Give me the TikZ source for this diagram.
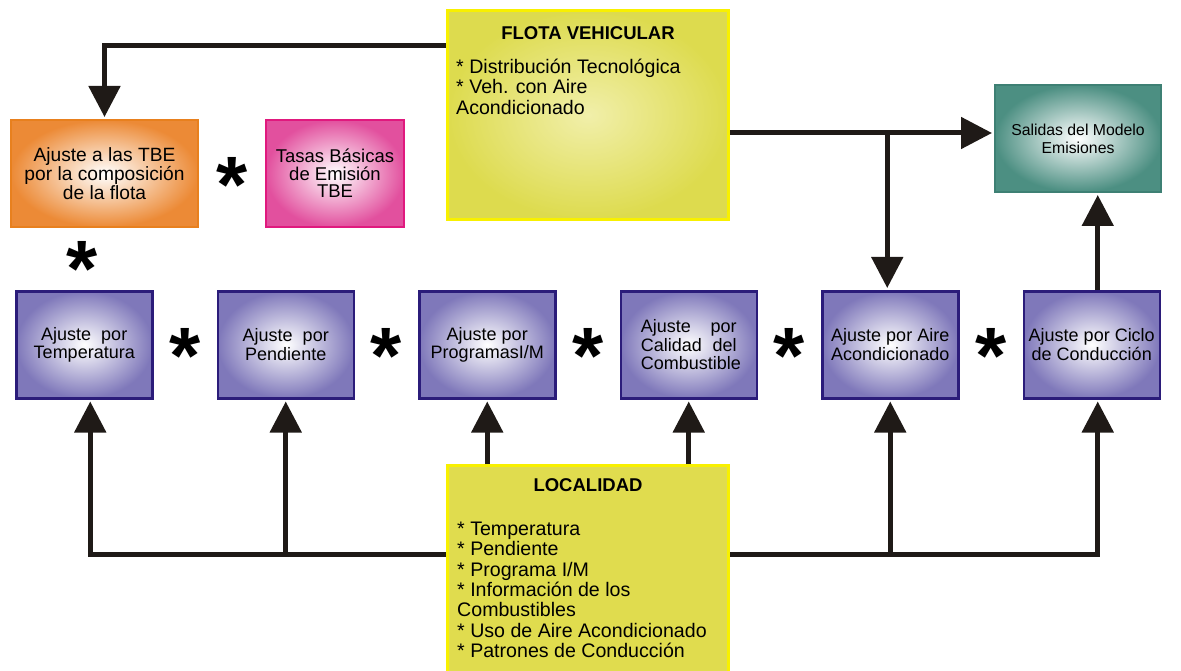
\documentclass[tikz,border=0pt]{standalone}
\usepackage{fontspec}
\setmainfont{Liberation Sans}
\usetikzlibrary{arrows.meta,positioning}

\definecolor{ajustefill}{HTML}{7F78BA}
\definecolor{ajusteline}{HTML}{2B1C7A}
\definecolor{flotafill}{HTML}{DDDB4E}
\definecolor{flotacenter}{HTML}{F1EFAA}
\definecolor{amarillo}{HTML}{F8F000}
\definecolor{locfill}{HTML}{E0DC4E}
\definecolor{naranja}{HTML}{EC8A36}
\definecolor{naranjaline}{HTML}{E8801E}
\definecolor{rosa}{HTML}{E2509E}
\definecolor{rosaline}{HTML}{E0197E}
\definecolor{verde}{HTML}{4C8F82}
\definecolor{verdeline}{HTML}{3E8074}
\definecolor{flecha}{HTML}{1F1A17}

\begin{document}
\begin{tikzpicture}[
		x=1pt, y=-1pt,
		node distance=63pt,
		line/.style={draw=flecha, line width=5pt},
		arrow/.style={line, -{Triangle[length=31pt,width=31pt]}, shorten >=2pt},
		block/.style={draw=ajusteline, line width=2.5pt, minimum width=136pt, minimum height=107pt,
			inner sep=1pt, align=center, inner color=white, outer color=ajustefill,
			font=\fontsize{18}{18.5}\selectfont},
		topblock/.style={line width=2pt, minimum height=107pt, anchor=north west,
			inner sep=1pt, align=center, inner color=white, font=\fontsize{18.5}{17.5}\selectfont},
		yellowbox/.style={draw=amarillo, line width=3pt, minimum width=281pt, anchor=north west},
		listtext/.style={anchor=north west, align=left, inner sep=0pt, font=\fontsize{19.6}{20.3}\selectfont},
		title/.style={font=\bfseries\fontsize{18.5}{20}\selectfont},
		star/.style={font=\bfseries\fontsize{80}{80}\selectfont, inner sep=0pt, yshift=-11pt},
	]
		\useasboundingbox (0,0) rectangle (1181,671);

		% bloques superiores
		\node (flota) [yellowbox, inner color=flotacenter, outer color=flotafill, minimum height=209pt] at (446,9) {};
		\node (flotatit) [title] at (flota.north |- 0,33) {FLOTA VEHICULAR};
		\node (flotalist) [listtext] at (456,59) {* Distribución Tecnológica\\* Veh. con Aire\\Acondicionado};

		\node (flotaadj) [topblock, draw=naranjaline, outer color=naranja, minimum width=187pt,
			font=\fontsize{19.2}{17.5}\selectfont] at (10,119) {Ajuste a las TBE\\por la composición\\de la flota};
		\node (tasas) [topblock, draw=rosaline, outer color=rosa, minimum width=138pt] at (265,119)
			{Tasas Básicas\\de Emisión\\TBE};
		\node (salidas) [topblock, draw=verdeline, outer color=verde, minimum width=166pt,
			font=\fontsize{15.8}{18}\selectfont] at (994,84) {Salidas del Modelo\\Emisiones};

		% fila de ajustes
		\node (temp) [block, anchor=north west] at (15,290) {Ajuste\ \ por\\Temperatura};
		\node (pend) [block, right=of temp] {Ajuste\ \ por\\Pendiente};
		\node (prog) [block, right=of pend] {Ajuste por\\ProgramasI/M};
		\node (cal) [block, right=of prog, text width=96pt, align=left]
			{Ajuste\hfill por\\Calidad\hfill del\\Combustible};
		\node (aire) [block, right=of cal] {Ajuste por Aire\\Acondicionado};
		\node (ciclo) [block, right=of aire] {Ajuste por Ciclo\\de Conducción};

		% localidad
		\node (loc) [yellowbox, fill=locfill, minimum height=215pt] at (446,464) {};
		\node (loctit) [title] at (loc.north |- 0,485) {LOCALIDAD};
		\node (loclist) [listtext] at (457,522) {* Temperatura\\* Pendiente\\* Programa I/M\\* Información de los\\Combustibles\\* Uso de Aire Acondicionado\\* Patrones de Conducción};

		% productos
		\node (star0) [star] at (82,258) {*};
		\path (flotaadj) -- node (star6) [star] {*} (tasas);
		\foreach \a/\b [count=\i] in {temp/pend, pend/prog, prog/cal, cal/aire, aire/ciclo}
			\path (\a) -- node (star\i) [star] {*} (\b);

		% conexiones
		\draw[arrow] (flota.west |- 0,46) -| (flotaadj.north);
		\draw[arrow] (flota.east |- 0,133) -- (salidas.west |- 0,133);
		\draw[arrow] ([xshift=-3pt]aire.north |- 0,133) -- ([xshift=-3pt]aire.north);
		\draw[arrow] ([xshift=6pt]ciclo.north) -- ([xshift=6pt]ciclo.north |- salidas.south);

		\draw[arrow] (loc.west |- 0,554) -| ([xshift=6pt]temp.south);
		\draw[arrow] (pend.south |- 0,554) -- (pend.south);
		\draw[arrow] (prog.south |- loc.north) -- (prog.south);
		\draw[arrow] (cal.south |- loc.north) -- (cal.south);
		\draw[arrow] (loc.east |- 0,554) -| ([xshift=6pt]ciclo.south);
		\draw[arrow] (aire.south |- 0,554) -- (aire.south);
	\end{tikzpicture}
\end{document}
